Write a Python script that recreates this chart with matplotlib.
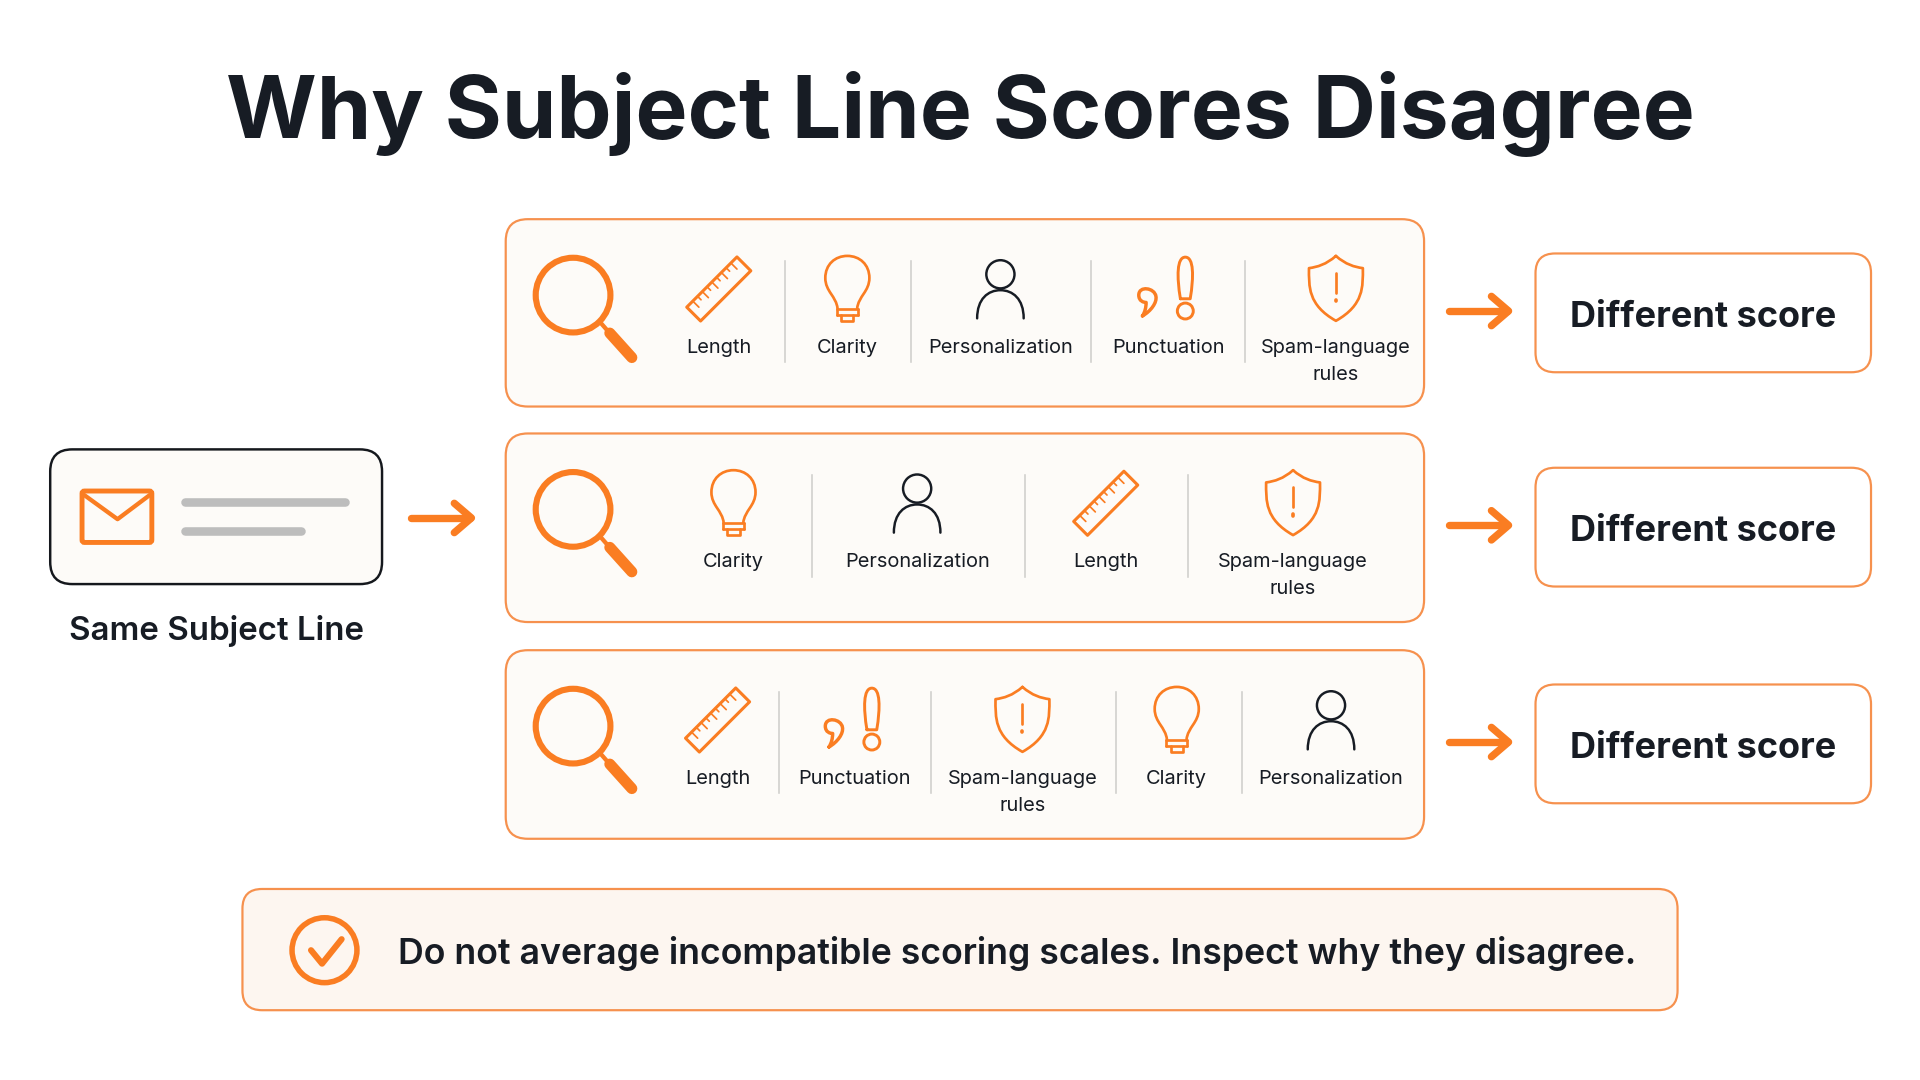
import numpy as np
import matplotlib
matplotlib.use("Agg")
import matplotlib.pyplot as plt
from matplotlib.patches import FancyBboxPatch, Circle, PathPatch, Polygon
from matplotlib.path import Path

plt.rcParams['font.family'] = ['Inter', 'DejaVu Sans']

ORANGE = '#FA7D22'
EDGE = '#F6914E'
DARK = '#171C24'

title = 'Why Subject Line Scores Disagree'
source_label = 'Same Subject Line'
score_label = 'Different score'
footer = 'Do not average incompatible scoring scales. Inspect why they disagree.'

row1_items = ['Length', 'Clarity', 'Personalization', 'Punctuation', 'Spam-language\nrules']
row2_items = ['Clarity', 'Personalization', 'Length', 'Spam-language\nrules']
row3_items = ['Length', 'Punctuation', 'Spam-language\nrules', 'Clarity', 'Personalization']

# layout, in px of a 1568 wide canvas
row_tops = [179, 354, 531]
row_bottoms = [332, 508, 685]
row1_x = [587, 692, 817, 954, 1091]
row2_x = [599, 749, 903, 1056]
row3_x = [586, 698, 835, 961, 1087]
row1_seps = [641, 744, 891, 1017]
row2_seps = [663, 837, 970]
row3_seps = [636, 760, 911, 1014]

fig = plt.figure(figsize=(19.2, 10.8), dpi=100)
ax = fig.add_axes([0, 0, 1, 1])
ax.set_xlim(0, 1568)
ax.set_ylim(882, 0)
ax.axis('off')

K = 0.882  # canvas px -> points


def box(x0, y0, x1, y1, r, fc, ec, lw):
    ax.add_patch(FancyBboxPatch((x0 + r, y0 + r), x1 - x0 - 2 * r, y1 - y0 - 2 * r,
                                boxstyle=f'round,pad={r},rounding_size={r}',
                                fc=fc, ec=ec, lw=lw * K, zorder=1))


def line(xs, ys, color=ORANGE, lw=2.0):
    ax.plot(xs, ys, color=color, lw=lw * K, solid_capstyle='round',
            solid_joinstyle='round', zorder=3)


def curve(verts, codes, color=ORANGE, lw=2.2, fc='none'):
    ax.add_patch(PathPatch(Path(verts, codes), fc=fc, ec=color, lw=lw * K,
                           capstyle='round', joinstyle='round', zorder=3))


def arrow(x0, x1, y):
    line([x0, x1 - 2], [y, y], lw=6)
    line([x1 - 15, x1 - 1, x1 - 15], [y - 12, y, y + 12], lw=6)


def magnifier(y):
    ax.add_patch(Circle((468, y - 13), 30.5, fc='none', ec=ORANGE, lw=5 * K, zorder=3))
    line([490, 497], [y + 9, y + 17], lw=3.5)
    line([498, 516], [y + 18, y + 38], lw=9)


def ruler(cx, cy):
    a = np.radians(-45)
    u = np.array([np.cos(a), np.sin(a)])
    v = np.array([-u[1], u[0]])
    c = np.array([cx, cy])
    corners = [c + s * 29 * u + t * 8 * v for s, t in ((-1, -1), (1, -1), (1, 1), (-1, 1))]
    ax.add_patch(Polygon(corners, closed=True, fc='none', ec=ORANGE, lw=2.5 * K,
                         joinstyle='round', zorder=3))
    for i, s in enumerate(np.linspace(-22, 22, 9)):
        h = 7 if i % 2 == 0 else 4
        p = c + s * u - 8 * v
        q = p + h * v
        line([p[0], q[0]], [p[1], q[1]], lw=1.4)


def bulb(cx, cy):
    M, C = Path.MOVETO, Path.CURVE4
    verts = [(cx - 8, cy + 16), (cx - 9, cy + 6), (cx - 18, cy + 2), (cx - 18, cy - 9),
             (cx - 18, cy - 20), (cx - 10, cy - 27), (cx, cy - 27),
             (cx + 10, cy - 27), (cx + 18, cy - 20), (cx + 18, cy - 9),
             (cx + 18, cy + 2), (cx + 9, cy + 6), (cx + 8, cy + 16)]
    curve(verts, [M] + [C] * 12)
    for dy, w in ((16, 8.5), (21, 8.5)):
        line([cx - w, cx + w], [cy + dy, cy + dy], lw=2.2)
    line([cx - 8.5, cx - 8.5], [cy + 16, cy + 21], lw=2.2)
    line([cx + 8.5, cx + 8.5], [cy + 16, cy + 21], lw=2.2)
    line([cx - 5, cx - 5, cx + 5, cx + 5], [cy + 21, cy + 26, cy + 26, cy + 21], lw=2.2)


def person(cx, cy):
    ax.add_patch(Circle((cx, cy - 12), 11.5, fc='none', ec=DARK, lw=2 * K, zorder=3))
    M, C = Path.MOVETO, Path.CURVE4
    curve([(cx - 19, cy + 24), (cx - 19, cy + 8), (cx - 10, cy + 1), (cx, cy + 1),
           (cx + 10, cy + 1), (cx + 19, cy + 8), (cx + 19, cy + 24)],
          [M, C, C, C, C, C, C], color=DARK, lw=2)


def punctuation(cx, cy):
    M, C, L = Path.MOVETO, Path.CURVE4, Path.LINETO
    ex = cx + 14
    curve([(ex - 4, cy + 8), (ex - 7, cy - 10), (ex - 7, cy - 26), (ex, cy - 26),
           (ex + 7, cy - 26), (ex + 7, cy - 10), (ex + 4, cy + 8), (ex - 4, cy + 8)],
          [M, C, C, C, C, C, C, L], lw=2.4)
    ax.add_patch(Circle((ex, cy + 18), 6.5, fc='none', ec=ORANGE, lw=2.4 * K, zorder=3))
    qx = cx - 17
    curve([(qx - 4, cy + 22), (qx + 3, cy + 18), (qx + 8, cy + 11), (qx + 7, cy + 6),
           (qx + 6, cy - 1), (qx - 7, cy - 3), (qx - 7, cy + 5), (qx - 7, cy + 10),
           (qx - 3, cy + 11), (qx - 1, cy + 11), (qx - 1, cy + 15), (qx - 2, cy + 19),
           (qx - 4, cy + 22)],
          [M] + [C] * 12, lw=2.8)


def shield(cx, cy):
    M, C = Path.MOVETO, Path.CURVE4
    curve([(cx, cy - 27), (cx + 8, cy - 20), (cx + 15, cy - 18), (cx + 22, cy - 17),
           (cx + 22, cy - 2), (cx + 23, cy + 13), (cx, cy + 26),
           (cx - 23, cy + 13), (cx - 22, cy - 2), (cx - 22, cy - 17),
           (cx - 15, cy - 18), (cx - 8, cy - 20), (cx, cy - 27)],
          [M, C, C, C, C, C, C, C, C, C, C, C, C])
    line([cx, cx], [cy - 13, cy + 3], lw=2.2)
    line([cx, cx], [cy + 9, cy + 10], lw=3)


icon_for = {
    'Length': ruler,
    'Clarity': bulb,
    'Personalization': person,
    'Punctuation': punctuation,
    'Spam-language\nrules': shield,
}

# title
ax.text(784, 93, title, ha='center', va='center', fontsize=63, fontweight='bold', color=DARK)

# source box
box(41, 367, 312, 477, 18, '#FDFBF8', '#15181D', 2.0)
ax.add_patch(FancyBboxPatch((67, 401), 57, 42, boxstyle='round,pad=0,rounding_size=2',
                            fc='none', ec=ORANGE, lw=4 * K, zorder=3))
line([67, 96, 124], [403, 424, 403], lw=3.5)
line([151, 282], [410, 410], color='#BDBDBD', lw=7)
line([151, 246], [434, 434], color='#BDBDBD', lw=7)
ax.text(177, 515, source_label, ha='center', va='center', fontsize=23.8, fontweight='semibold', color=DARK)
arrow(336, 386, 423)

# the three scorer rows
rows = zip(row_tops, row_bottoms, (row1_items, row2_items, row3_items),
           (row1_x, row2_x, row3_x), (row1_seps, row2_seps, row3_seps))
for top, bottom, items, xs, seps in rows:
    box(413, top, 1163, bottom, 18, '#FDFBF8', EDGE, 1.8)
    magnifier(top + 75)
    icon_y = top + 57
    label_y = top + 105
    for item, x in zip(items, xs):
        icon_for[item](x, icon_y)
        parts = item.split('\n')
        for i, part in enumerate(parts):
            ax.text(x, label_y + i * 22, part, ha='center', va='center',
                    fontsize=14.4, color=DARK)
    for x in seps:
        ax.plot([x, x], [top + 34, top + 117], color='#CFCFCC', lw=1.3 * K, zorder=2)

    # result box
    box_top = top + 28
    box(1254, box_top, 1528, box_top + 97, 16, 'white', EDGE, 1.8)
    ax.text(1391, box_top + 52, score_label, ha='center', va='center', fontsize=26,
            fontweight='bold', color=DARK)
    arrow(1183, 1233, top + 75)

# footer
box(198, 726, 1370, 825, 16, '#FDF6F0', EDGE, 1.8)
ax.add_patch(Circle((265, 776), 26.5, fc='none', ec=ORANGE, lw=4.5 * K, zorder=3))
line([254, 263, 279], [776, 787, 767], lw=5)
ax.text(325, 779, footer, ha='left', va='center', fontsize=25.7, fontweight='semibold', color=DARK)

fig.savefig('out.png', dpi=100, facecolor='white')
